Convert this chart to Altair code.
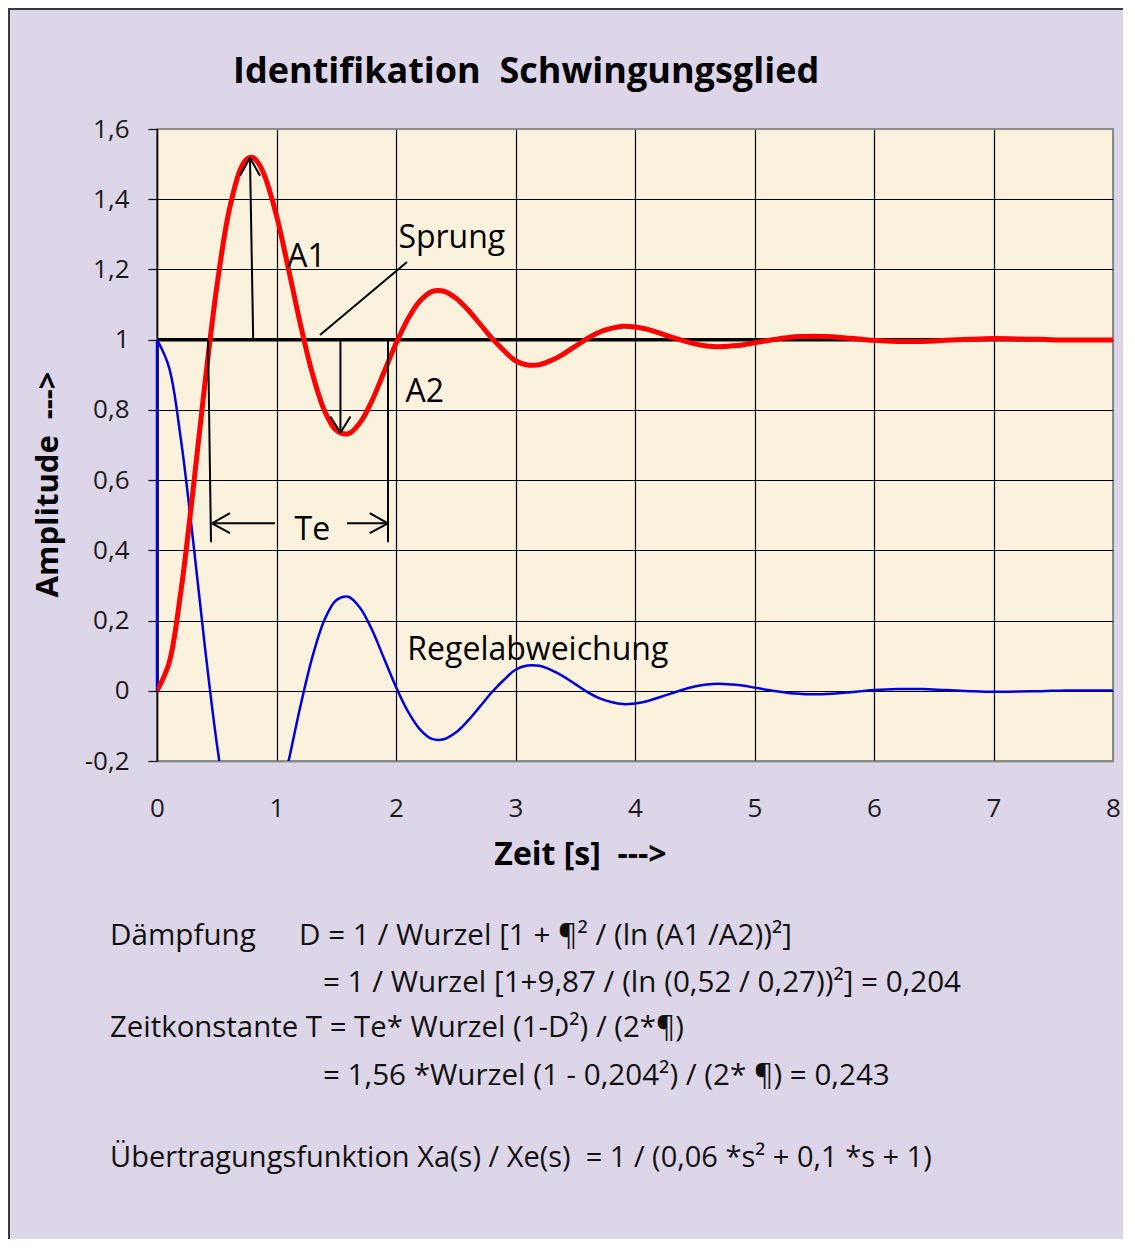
import altair as alt
import pandas as pd

# ---------------- data ----------------
time_s = [0.0, 0.1, 0.2, 0.3, 0.4, 0.5, 0.6, 0.7, 0.75, 0.8, 0.85, 0.9,
          1.0, 1.1, 1.2, 1.3, 1.4, 1.5, 1.6, 1.7, 1.8, 1.9,
          2.0, 2.1, 2.2, 2.3, 2.4, 2.5, 2.6, 2.7, 2.8, 2.9,
          3.0, 3.1, 3.2, 3.3, 3.4, 3.5, 3.6, 3.7, 3.8, 3.9,
          4.0, 4.1, 4.2, 4.3, 4.4, 4.5, 4.6, 4.7, 4.8, 4.9,
          5.0, 5.1, 5.2, 5.3, 5.4, 5.5, 5.6, 5.7, 5.8, 5.9,
          6.0, 6.2, 6.4, 6.6, 6.8, 7.0, 7.2, 7.4, 7.6, 7.8, 8.0]

sprungantwort = [0.000, 0.078, 0.284, 0.566, 0.872, 1.149, 1.362, 1.487, 1.514, 1.519, 1.502, 1.467,
                 1.353, 1.202, 1.044, 0.904, 0.799, 0.742, 0.732, 0.764, 0.827, 0.908,
                 0.989, 1.059, 1.110, 1.137, 1.138, 1.119, 1.086, 1.046, 1.005, 0.970,
                 0.940, 0.928, 0.929, 0.941, 0.959, 0.981, 1.003, 1.021, 1.032, 1.038,
                 1.036, 1.030, 1.019, 1.008, 0.997, 0.988, 0.982, 0.980, 0.982, 0.985,
                 0.991, 0.997, 1.002, 1.007, 1.009, 1.010, 1.009, 1.007, 1.004, 1.001,
                 0.998, 0.995, 0.995, 0.998, 1.001, 1.003, 1.002, 1.001, 0.999, 0.999, 0.999]

regelabweichung = [1.000, 0.922, 0.716, 0.434, 0.128, -0.149, -0.362, -0.487, -0.514, -0.519, -0.502, -0.467,
                   -0.353, -0.202, -0.044, 0.096, 0.201, 0.258, 0.268, 0.236, 0.173, 0.092,
                   0.011, -0.059, -0.110, -0.137, -0.138, -0.119, -0.086, -0.046, -0.005, 0.030,
                   0.060, 0.072, 0.071, 0.059, 0.041, 0.019, -0.003, -0.021, -0.032, -0.038,
                   -0.036, -0.030, -0.019, -0.008, 0.003, 0.012, 0.018, 0.020, 0.018, 0.015,
                   0.009, 0.003, -0.002, -0.007, -0.009, -0.010, -0.009, -0.007, -0.004, -0.001,
                   0.002, 0.005, 0.005, 0.002, -0.001, -0.003, -0.002, -0.001, 0.001, 0.001, 0.001]

# step input (Sprung)
sprung_t = [0, 0, 8]
sprung_v = [0, 1, 1]
sprung_order = [0, 1, 2]

# vertical start of the Regelabweichung at t = 0
regel_start_t = [0]
regel_start_v0 = [0]
regel_start_v1 = [1]

# tick values
x_ticks = [0, 1, 2, 3, 4, 5, 6, 7, 8]
y_ticks = [-0.2, 0, 0.2, 0.4, 0.6, 0.8, 1, 1.2, 1.4, 1.6]

# annotation segments (data units): A1 arrow, A2 arrow, Te dimension, Sprung leader
seg_x1 = [0.805, 0.778, 0.778, 1.535, 1.535, 1.535, 0.427, 1.933, 0.46, 0.46, 0.46, 1.59, 1.933, 1.933, 1.364]
seg_y1 = [1.000, 1.518, 1.518, 1.000, 0.735, 0.735, 1.000, 1.000, 0.477, 0.477, 0.477, 0.477, 0.477, 0.477, 1.013]
seg_x2 = [0.778, 0.694, 0.862, 1.535, 1.451, 1.619, 0.452, 1.933, 0.987, 0.611, 0.611, 1.933, 1.78, 1.78, 2.092]
seg_y2 = [1.518, 1.467, 1.467, 0.735, 0.781, 0.781, 0.423, 0.423, 0.477, 0.506, 0.449, 0.477, 0.506, 0.449, 1.221]

# in-plot labels
label_text = ["A1", "Sprung", "A2", "Te", "Regelabweichung"]
label_x = [1.09, 2.02, 2.08, 1.30, 2.095]
label_y = [1.207, 1.261, 0.822, 0.429, 0.087]
label_align = ["left", "left", "left", "center", "left"]

# formula lines below the chart (pixel offsets from plot origin)
formula_text = [
    "Dämpfung",
    "D = 1 / Wurzel [1 + ¶² / (ln (A1 /A2))²]",
    "= 1 / Wurzel [1+9,87 / (ln (0,52 / 0,27))²] = 0,204",
    "Zeitkonstante T = Te* Wurzel (1-D²) / (2*¶)",
    "= 1,56 *Wurzel (1 - 0,204²) / (2* ¶) = 0,243",
    "Übertragungsfunktion Xa(s) / Xe(s)\u00a0 = 1 / (0,06 *s² + 0,1 *s + 1)",
]
formula_px = [-47, 142, 166, -47, 166, -47]
formula_py = [816, 816, 863, 908, 956, 1038]
formula_fs = [29.6, 29.6, 29.6, 29.4, 29.6, 29.0]

title_text = "Identifikation\u00a0 Schwingungsglied"

FONT = "Open Sans"
GRAY = "#8C8C8C"

# ---------------- scales & axes ----------------
xs = alt.Scale(domain=[0, 8], nice=False, zero=False)
ys = alt.Scale(domain=[-0.2, 1.6], nice=False, zero=False)

x_axis = alt.Axis(
    values=x_ticks, format="d",
    title="Zeit [s]\u00a0 --->", titleFont=FONT, titleFontSize=32, titleFontWeight="bold",
    titleColor="#000000", titleX=423, titleY=103, titleAlign="center", titleBaseline="alphabetic",
    labelFont=FONT, labelFontSize=26, labelColor="#1a1a1a", labelPadding=34,
    ticks=False, tickSize=0, labelFlush=False, labelOverlap=False,
    domainColor=GRAY, domainWidth=2,
    grid=True, gridWidth=1.2,
    gridColor=alt.condition("datum.value === 8", alt.value(GRAY), alt.value("#000000")),
)

y_axis = alt.Axis(
    values=y_ticks,
    labelExpr="replace(replace(format(datum.value, '~g'), '.', ','), '\u2212', '-')",
    title="Amplitude\u00a0 --->", titleFont=FONT, titleFontSize=31, titleFontWeight="bold",
    titleColor="#000000", titleX=-100, titleY=355, titleAlign="center",
    titleBaseline="alphabetic", titleAngle=270,
    labelFont=FONT, labelFontSize=26, labelColor="#1a1a1a", labelPadding=19,
    tickSize=9, tickColor="#000000", tickWidth=1.2, labelFlush=False, labelOverlap=False,
    domainColor="#000000", domainWidth=1.5,
    grid=True, gridWidth=1.2,
    gridColor=alt.condition("datum.value === 1.6 || datum.value === -0.2",
                            alt.value(GRAY), alt.value("#000000")),
)

# ---------------- data frames ----------------
curve_df = pd.DataFrame({"t": time_s, "x": sprungantwort, "e": regelabweichung})
step_df = pd.DataFrame({"t": sprung_t, "v": sprung_v, "o": sprung_order})
start_df = pd.DataFrame({"t": regel_start_t, "v0": regel_start_v0, "v1": regel_start_v1})
seg_df = pd.DataFrame({"x1": seg_x1, "y1": seg_y1, "x2": seg_x2, "y2": seg_y2})
lab_df = pd.DataFrame({"txt": label_text, "lx": label_x, "ly": label_y, "al": label_align})

# ---------------- layers ----------------
step = alt.Chart(step_df).mark_line(color="#000000", strokeWidth=3.5, clip=True).encode(
    x=alt.X("t:Q", scale=xs, axis=x_axis),
    y=alt.Y("v:Q", scale=ys, axis=y_axis),
    order="o:Q",
)

start = alt.Chart(start_df).mark_rule(color="#0000DD", strokeWidth=2.5).encode(
    x=alt.X("t:Q", scale=xs, axis=x_axis),
    y=alt.Y("v0:Q", scale=ys, axis=y_axis),
    y2="v1:Q",
)

blue = alt.Chart(curve_df).mark_line(color="#0000DD", strokeWidth=2.5, interpolate="catmull-rom",
                                     clip=True).encode(
    x=alt.X("t:Q", scale=xs, axis=x_axis),
    y=alt.Y("e:Q", scale=ys, axis=y_axis),
)

red = alt.Chart(curve_df).mark_line(color="#FF0000", strokeWidth=5, interpolate="catmull-rom",
                                    clip=True).encode(
    x=alt.X("t:Q", scale=xs, axis=x_axis),
    y=alt.Y("x:Q", scale=ys, axis=y_axis),
)

segs = alt.Chart(seg_df).mark_rule(color="#000000", strokeWidth=2).encode(
    x=alt.X("x1:Q", scale=xs, axis=x_axis),
    y=alt.Y("y1:Q", scale=ys, axis=y_axis),
    x2="x2:Q",
    y2="y2:Q",
)

labels_left = alt.Chart(lab_df).transform_filter("datum.al === 'left'").mark_text(
    font=FONT, fontSize=32, color="#000000", align="left", baseline="alphabetic"
).encode(
    x=alt.X("lx:Q", scale=xs, axis=x_axis),
    y=alt.Y("ly:Q", scale=ys, axis=y_axis),
    text="txt:N",
)

labels_center = alt.Chart(lab_df).transform_filter("datum.al === 'center'").mark_text(
    font=FONT, fontSize=32, color="#000000", align="center", baseline="alphabetic"
).encode(
    x=alt.X("lx:Q", scale=xs, axis=x_axis),
    y=alt.Y("ly:Q", scale=ys, axis=y_axis),
    text="txt:N",
)

layers = [step, start, blue, red, segs, labels_left, labels_center]

for txt, px, py, fs in zip(formula_text, formula_px, formula_py, formula_fs):
    layers.append(
        alt.Chart(pd.DataFrame({"s": [txt]})).mark_text(
            font=FONT, fontSize=fs, color="#111111", align="left", baseline="alphabetic"
        ).encode(x=alt.value(px), y=alt.value(py), text="s:N")
    )

layers.append(
    alt.Chart(pd.DataFrame({"s": [title_text]})).mark_text(
        font=FONT, fontSize=36, fontWeight="bold", color="#000000", align="left",
        baseline="alphabetic"
    ).encode(x=alt.value(76), y=alt.value(-46), text="s:N")
)

# outer frame of the figure (left and top edges visible)
layers.append(
    alt.Chart(pd.DataFrame({"k": [0]})).mark_rect(
        fillOpacity=0, stroke="#3a3a3a", strokeWidth=2, clip=False
    ).encode(x=alt.value(-148), y=alt.value(-120), x2=alt.value(1300), y2=alt.value(1500))
)

chart = alt.layer(*layers).properties(
    width=956,
    height=632,
    padding={"left": 149, "top": 121, "right": 10, "bottom": 478},
    autosize=alt.AutoSizeParams(type="none"),
    background="#DCD6E8",
).configure_view(
    fill="#FBF2DE", stroke=GRAY, strokeWidth=2
)

chart.save("out.html", embed_options={"renderer": "svg", "actions": False})
